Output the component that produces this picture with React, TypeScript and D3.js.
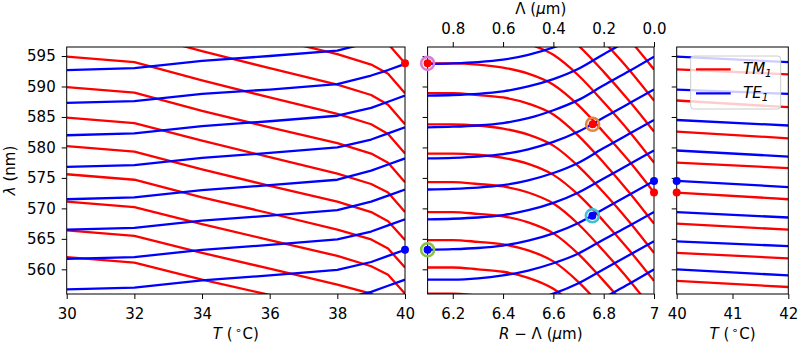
import { useEffect, useRef } from 'react';
import * as d3 from 'd3';

// Left panel: temperature sweep (°C)
const T_SWEEP = [30, 32, 34, 36, 38, 39, 39.5, 40];
const TM_VS_T = [
  [609.5, 608.6, 605.6, 602.9, 600.2, 598.5, 597.0, 593.8],
  [604.6, 603.7, 600.7, 598.0, 595.3, 593.6, 592.1, 588.9],
  [599.7, 598.8, 595.8, 593.0, 590.3, 588.6, 587.0, 583.8],
  [594.9, 594.0, 591.0, 588.2, 585.5, 583.8, 582.2, 579.0],
  [589.9, 589.0, 586.0, 583.3, 580.7, 579.0, 577.5, 574.3],
  [584.9, 584.0, 581.1, 578.4, 575.7, 574.0, 572.6, 569.4],
  [580.2, 579.3, 576.4, 573.7, 571.1, 569.4, 567.9, 564.8],
  [575.6, 574.7, 571.8, 569.2, 566.5, 564.9, 563.4, 560.3],
  [571.1, 570.2, 567.4, 564.8, 562.2, 560.5, 559.1, 556.0],
  [566.4, 565.5, 562.7, 560.1, 557.5, 556.0, 554.5, 551.5],
  [562.0, 561.1, 558.3, 555.8, 553.2, 551.6, 550.2, 547.2],
];
const TE_VS_T = [
  [592.7, 593.0, 594.2, 595.0, 595.9, 597.3, 598.3, 599.3],
  [587.3, 587.6, 588.8, 589.5, 590.4, 591.8, 592.7, 593.7],
  [582.0, 582.3, 583.5, 584.3, 585.2, 586.5, 587.5, 588.5],
  [576.8, 577.1, 578.3, 579.1, 580.0, 581.3, 582.3, 583.3],
  [571.5, 571.8, 573.0, 573.8, 574.7, 576.2, 577.2, 578.2],
  [566.5, 566.8, 568.0, 568.8, 569.7, 571.1, 572.1, 573.1],
  [561.7, 562.0, 563.2, 564.0, 564.9, 566.2, 567.2, 568.2],
  [556.7, 557.0, 558.2, 559.0, 559.9, 561.2, 562.2, 563.2],
  [551.7, 552.0, 553.2, 554.0, 554.9, 556.3, 557.3, 558.3],
];

// Middle panel: R - Λ sweep (µm)
const R_SWEEP = [6.1, 6.2, 6.3, 6.4, 6.5, 6.6, 6.7, 6.8, 6.9, 7.0];
const TM_VS_R = [
  [613.2, 613.2, 613.0, 612.5, 611.6, 609.8, 606.6, 602.3, 597.8, 592.8],
  [608.4, 608.4, 608.2, 607.7, 606.7, 605.0, 601.7, 597.4, 592.8, 587.7],
  [603.5, 603.5, 603.3, 602.8, 601.8, 600.1, 596.7, 592.4, 587.7, 582.6],
  [598.7, 598.7, 598.5, 598.0, 597.0, 595.2, 591.8, 587.4, 582.7, 577.5],
  [593.8, 593.8, 593.6, 593.1, 592.1, 590.3, 586.9, 582.5, 577.8, 572.6],
  [588.9, 588.9, 588.6, 588.2, 587.2, 585.4, 581.9, 577.5, 572.7, 567.5],
  [583.8, 583.8, 583.6, 583.1, 582.1, 580.3, 576.9, 572.6, 567.9, 562.7],
  [579.0, 579.0, 578.8, 578.3, 577.3, 575.5, 572.2, 567.9, 563.2, 558.1],
  [574.3, 574.3, 574.0, 573.6, 572.6, 570.8, 567.4, 563.0, 558.3, 553.1],
  [569.4, 569.4, 569.1, 568.7, 567.7, 565.9, 562.5, 558.1, 553.4, 548.2],
  [564.8, 564.8, 564.5, 564.1, 563.1, 561.3, 557.9, 553.5, 548.8, 543.6],
  [560.3, 560.3, 560.0, 559.6, 558.6, 556.8, 553.4, 549.0, 544.3, 539.1],
  [556.0, 556.0, 555.7, 555.3, 554.3, 552.5, 549.1, 544.7, 540.0, 534.8],
];
const TE_VS_R = [
  [593.7, 593.8, 594.0, 594.4, 595.2, 596.4, 598.1, 600.4, 602.7, 605.0],
  [588.5, 588.6, 588.8, 589.2, 590.0, 591.2, 592.9, 595.3, 597.6, 599.9],
  [583.3, 583.4, 583.6, 584.0, 584.8, 586.1, 587.8, 590.2, 592.5, 594.9],
  [578.2, 578.3, 578.5, 578.9, 579.7, 580.9, 582.6, 584.9, 587.2, 589.5],
  [573.1, 573.2, 573.4, 573.8, 574.6, 575.8, 577.5, 579.9, 582.2, 584.5],
  [568.2, 568.3, 568.5, 568.9, 569.7, 570.9, 572.6, 574.9, 577.2, 579.5],
  [563.2, 563.3, 563.5, 563.9, 564.7, 565.9, 567.6, 569.9, 572.2, 574.5],
  [558.3, 558.3, 558.5, 559.0, 559.8, 561.0, 562.6, 564.9, 567.1, 569.4],
  [553.3, 553.4, 553.6, 554.0, 554.8, 556.0, 557.7, 560.0, 562.3, 564.6],
  [548.4, 548.5, 548.7, 549.1, 549.9, 551.2, 552.9, 555.3, 557.6, 560.0],
];

// Right panel: temperature sweep after the ring change
const T_FINAL = [40, 42];
const TM_VS_T2 = [
  [592.8, 592.0], [587.7, 586.6], [582.6, 581.5], [577.5, 576.6],
  [572.6, 571.5], [567.5, 566.5], [562.7, 561.8], [558.1, 557.1],
];
const TE_VS_T2 = [
  [594.9, 594.0], [589.5, 588.8], [584.5, 583.6], [579.5, 578.5],
  [574.5, 573.5], [569.4, 568.5], [564.6, 563.8], [560.0, 559.0],
];

const WL_TICKS = [560, 565, 570, 575, 580, 585, 590, 595];
const T_TICKS = [30, 32, 34, 36, 38, 40];
const R_TICKS = [6.2, 6.4, 6.6, 6.8, 7];
const LAMBDA_TICKS = [0.8, 0.6, 0.4, 0.2, 0.0];
const T2_TICKS = [40, 41, 42];

// tracked modes: panel index, x, wavelength, dot colour, ring colour
const MARKERS = [
  { panel: 0, x: 40, y: 593.8, fill: 'red', ring: null },
  { panel: 0, x: 40, y: 563.2, fill: 'blue', ring: null },
  { panel: 1, x: 6.1, y: 593.8, fill: 'red', ring: '#d47fd4' },
  { panel: 1, x: 6.756, y: 583.8, fill: 'red', ring: '#e5823c' },
  { panel: 1, x: 6.1, y: 563.2, fill: 'blue', ring: '#86c24a' },
  { panel: 1, x: 6.755, y: 568.8, fill: 'blue', ring: '#3ec3d6' },
  { panel: 1, x: 7, y: 574.5, fill: 'blue', ring: null },
  { panel: 1, x: 7, y: 572.6, fill: 'red', ring: null },
  { panel: 2, x: 40, y: 574.5, fill: 'blue', ring: null },
  { panel: 2, x: 40, y: 572.6, fill: 'red', ring: null },
];

const FONT = 'DejaVu Sans, sans-serif';
const FS = 15;
const TOP = 47;
const BOTTOM = 294;
const LW = 2.3;

export default function App() {
  const svgRef = useRef<SVGSVGElement>(null);

  useEffect(() => {
    if (!svgRef.current) return;
    const svg = d3.select(svgRef.current);
    svg.selectAll('*').remove();

    const y = d3.scaleLinear().domain([555.95, 596.48]).range([BOTTOM, TOP]);

    const panels = [
      { x0: 66.7, x1: 405, domain: [30, 40], xs: T_SWEEP, tm: TM_VS_T, te: TE_VS_T, ticks: T_TICKS, fmt: (d: number) => String(d), curve: d3.curveLinear },
      { x0: 427.6, x1: 654, domain: [6.1, 7], xs: R_SWEEP, tm: TM_VS_R, te: TE_VS_R, ticks: R_TICKS, fmt: (d: number) => (d === 7 ? '7' : d.toFixed(1)), curve: d3.curveMonotoneX },
      { x0: 676.7, x1: 788.3, domain: [40, 42], xs: T_FINAL, tm: TM_VS_T2, te: TE_VS_T2, ticks: T2_TICKS, fmt: (d: number) => String(d), curve: d3.curveLinear },
    ];

    const styleAxis = (sel: d3.Selection<SVGGElement, unknown, null, undefined>) => {
      sel.select('.domain').remove();
      sel.selectAll('.tick line').attr('stroke', '#000').attr('stroke-width', 1);
      sel.selectAll('.tick text').attr('font-size', FS).attr('font-family', FONT).attr('fill', '#000');
    };

    const xScales: d3.ScaleLinear<number, number>[] = [];

    panels.forEach((p, i) => {
      const x = d3.scaleLinear().domain(p.domain).range([p.x0, p.x1]);
      xScales.push(x);

      svg.append('clipPath').attr('id', `clip-${i}`)
        .append('rect')
        .attr('x', p.x0).attr('y', TOP)
        .attr('width', p.x1 - p.x0).attr('height', BOTTOM - TOP);

      const line = d3.line<number>()
        .x((_, j) => x(p.xs[j]))
        .y(v => y(v))
        .curve(p.curve);

      const g = svg.append('g').attr('clip-path', `url(#clip-${i})`);
      p.tm.forEach(s => {
        g.append('path').attr('d', line(s)).attr('fill', 'none')
          .attr('stroke', 'red').attr('stroke-width', LW).attr('stroke-linejoin', 'round');
      });
      p.te.forEach(s => {
        g.append('path').attr('d', line(s)).attr('fill', 'none')
          .attr('stroke', 'blue').attr('stroke-width', LW).attr('stroke-linejoin', 'round');
      });

      // bottom axis
      svg.append('g')
        .attr('transform', `translate(0,${BOTTOM})`)
        .call(d3.axisBottom(x).tickValues(p.ticks).tickFormat(d => p.fmt(d as number)).tickSize(5).tickPadding(9))
        .call(styleAxis);

      // left axis, labels only on the first panel
      svg.append('g')
        .attr('transform', `translate(${p.x0},0)`)
        .call(d3.axisLeft(y).tickValues(WL_TICKS).tickSize(5).tickPadding(6)
          .tickFormat(d => (i === 0 ? String(d) : '')))
        .call(styleAxis);

      svg.append('rect')
        .attr('x', p.x0).attr('y', TOP)
        .attr('width', p.x1 - p.x0).attr('height', BOTTOM - TOP)
        .attr('fill', 'none').attr('stroke', '#000').attr('stroke-width', 1);
    });

    // twin top axis on middle panel: Λ = 7 - (R - Λ)
    const mid = panels[1];
    const xTop = d3.scaleLinear().domain([0.9, 0]).range([mid.x0, mid.x1]);
    svg.append('g')
      .attr('transform', `translate(0,${TOP})`)
      .call(d3.axisTop(xTop).tickValues(LAMBDA_TICKS).tickFormat(d3.format('.1f')).tickSize(5).tickPadding(8))
      .call(styleAxis);

    // axis labels
    const label = (xPos: number, yPos: number) =>
      svg.append('text').attr('x', xPos).attr('y', yPos)
        .attr('text-anchor', 'middle').attr('font-size', FS).attr('font-family', FONT).attr('fill', '#000');

    const tLabel = (cx: number) => {
      const t = label(cx, 339);
      t.append('tspan').attr('font-style', 'italic').text('T');
      t.append('tspan').text(' (');
      t.append('tspan').attr('dx', 2).attr('dy', -5).attr('font-size', 11).text('∘');
      t.append('tspan').attr('dx', 1).attr('dy', 5).text('C)');
    };
    tLabel((panels[0].x0 + panels[0].x1) / 2);
    tLabel((panels[2].x0 + panels[2].x1) / 2);

    const rl = label((mid.x0 + mid.x1) / 2, 339);
    rl.append('tspan').attr('font-style', 'italic').text('R');
    rl.append('tspan').text(' − Λ (');
    rl.append('tspan').attr('font-style', 'italic').text('μ');
    rl.append('tspan').text('m)');

    const tl = label((mid.x0 + mid.x1) / 2, 14);
    tl.append('tspan').text('Λ (');
    tl.append('tspan').attr('font-style', 'italic').text('μ');
    tl.append('tspan').text('m)');

    const yl = svg.append('text')
      .attr('transform', `translate(15,${(TOP + BOTTOM) / 2}) rotate(-90)`)
      .attr('text-anchor', 'middle').attr('font-size', FS).attr('font-family', FONT).attr('fill', '#000');
    yl.append('tspan').attr('font-style', 'italic').text('λ');
    yl.append('tspan').text(' (nm)');

    // markers
    MARKERS.forEach(m => {
      const cx = xScales[m.panel](m.x);
      const cy = y(m.y);
      if (m.ring) {
        svg.append('circle').attr('cx', cx).attr('cy', cy).attr('r', 6.5)
          .attr('fill', 'none').attr('stroke', m.ring).attr('stroke-width', 2.6);
      }
      svg.append('circle').attr('cx', cx).attr('cy', cy).attr('r', 4).attr('fill', m.fill);
    });

    // legend
    const lg = svg.append('g');
    lg.append('rect').attr('x', 690.7).attr('y', 56).attr('width', 90).attr('height', 53).attr('rx', 3)
      .attr('fill', 'white').attr('fill-opacity', 0.8).attr('stroke', '#cccccc').attr('stroke-width', 1);
    [{ name: 'TM', color: 'red', cy: 69.3 }, { name: 'TE', color: 'blue', cy: 93.3 }].forEach(e => {
      lg.append('line').attr('x1', 696).attr('x2', 730.7).attr('y1', e.cy).attr('y2', e.cy)
        .attr('stroke', e.color).attr('stroke-width', LW);
      const t = lg.append('text').attr('x', 743).attr('y', e.cy + 5)
        .attr('font-size', FS).attr('font-family', FONT).attr('font-style', 'italic').attr('fill', '#000');
      t.append('tspan').text(e.name);
      t.append('tspan').attr('dy', 3).attr('font-size', 10.5).text('1');
    });
  }, []);

  return (
    <svg
      ref={svgRef}
      width={800}
      height={345}
      style={{ position: 'absolute', left: 0, top: 0, background: 'white' }}
    />
  );
}
